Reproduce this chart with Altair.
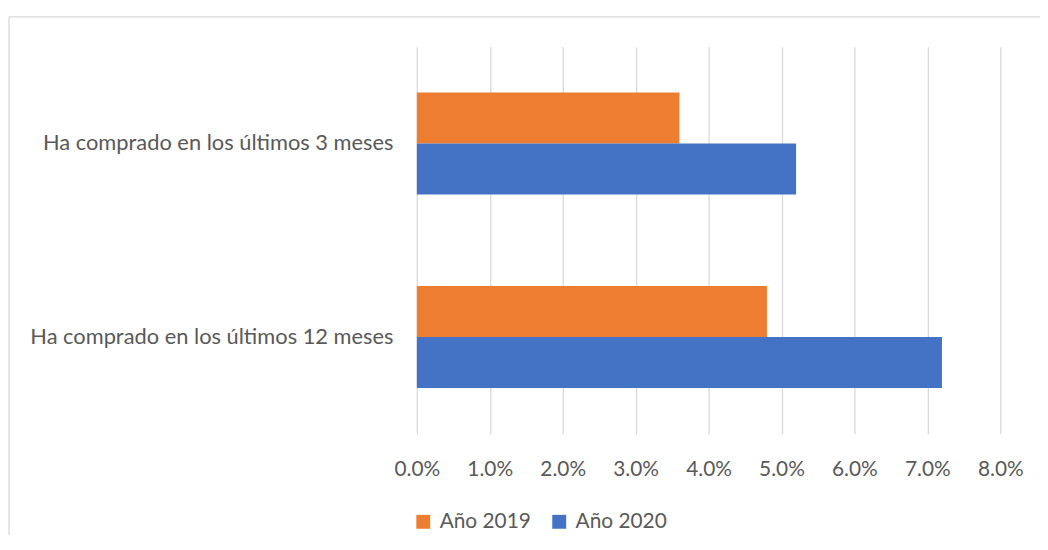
import altair as alt
import pandas as pd

categories = ["Ha comprado en los últimos 3 meses", "Ha comprado en los últimos 12 meses"]
series = ["Año 2019", "Año 2020"]
values_2019 = [0.036, 0.048]
values_2020 = [0.052, 0.072]
x_ticks = [0.0, 0.01, 0.02, 0.03, 0.04, 0.05, 0.06, 0.07, 0.08]
colors = ["#ED7D31", "#4472C4"]

rows = []
for c, v in zip(categories, values_2019):
    rows.append({"cat": c, "serie": series[0], "val": v})
for c, v in zip(categories, values_2020):
    rows.append({"cat": c, "serie": series[1], "val": v})
df = pd.DataFrame(rows)

FONT = "Lato"
TXT = "#595959"

bars = alt.Chart(df).mark_bar().encode(
    x=alt.X("val:Q",
            scale=alt.Scale(domain=[0, 0.08], nice=False),
            axis=alt.Axis(values=x_ticks, format=".1%", title=None, domain=False,
                          ticks=False, grid=True, gridColor="#d9d9d9", gridWidth=1.3,
                          labelFont=FONT, labelFontSize=21, labelColor=TXT,
                          labelPadding=25, labelFlush=False, labelOverlap=False)),
    y=alt.Y("cat:N", sort=categories,
            scale=alt.Scale(paddingInner=0.472, paddingOuter=0.236),
            axis=alt.Axis(title=None, domain=False, ticks=False, labelFont=FONT,
                          labelFontSize=22, labelColor=TXT, labelPadding=24,
                          labelLimit=500)),
    yOffset=alt.YOffset("serie:N", sort=series),
    color=alt.Color("serie:N", sort=series,
                    scale=alt.Scale(domain=series, range=colors),
                    legend=alt.Legend(title=None, orient="none", direction="horizontal",
                                      legendX=-4, legendY=468, symbolType="square",
                                      symbolSize=196, symbolStrokeWidth=0,
                                      labelFont=FONT, labelFontSize=21,
                                      labelColor=TXT, labelOffset=6,
                                      columnPadding=18)),
)

border_top = alt.Chart(alt.Data(values=[{"a": 1}])).mark_rule(
    color="#d9d9d9", strokeWidth=1.3, clip=False
).encode(x=alt.value(-411), x2=alt.value(700), y=alt.value(-30))

border_left = alt.Chart(alt.Data(values=[{"a": 1}])).mark_rule(
    color="#d9d9d9", strokeWidth=1.3, clip=False
).encode(x=alt.value(-411), y=alt.value(-30), y2=alt.value(600))

chart = alt.layer(bars, border_top, border_left).properties(
    width=588, height=390,
    background="white",
    autosize=alt.AutoSizeParams(type="none"),
    padding={"left": 412, "top": 37, "right": 40, "bottom": 100},
).configure_view(stroke=None)

chart.save("out.html", embed_options={"renderer": "svg", "actions": False})
